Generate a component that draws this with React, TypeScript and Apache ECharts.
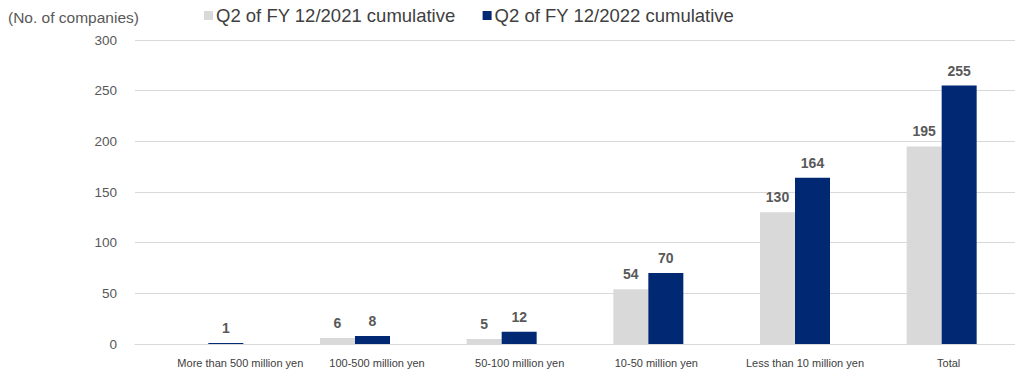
import React, { useEffect, useRef } from "react";
import * as echarts from "echarts";

const categories = [
  "More than 500 million yen",
  "100-500 million yen",
  "50-100 million yen",
  "10-50 million yen",
  "Less than 10 million yen",
  "Total",
];
const series2021 = [0, 6, 5, 54, 130, 195];
const series2022 = [1, 8, 12, 70, 164, 255];
const seriesNames = ["Q2 of FY 12/2021 cumulative", "Q2 of FY 12/2022 cumulative"];

const FONT = "'Liberation Sans', Arial, sans-serif";

export default function App() {
  const ref = useRef<HTMLDivElement>(null);
  useEffect(() => {
    if (!ref.current) return;
    const chart = echarts.init(ref.current, undefined, { renderer: "svg" });
    const labelShift = [64, 44, 36, 16, 20, 14];
    const labelCfg = {
      show: true,
      position: "top" as const,
      distance: 8,
      color: "#595959",
      fontWeight: "bold" as const,
      fontSize: 14,
      fontFamily: FONT,
      formatter: (p: any) => (p.value === 0 ? "" : String(p.value)),
    };
    chart.setOption({
      animation: false,
      textStyle: { fontFamily: FONT },
      graphic: [
        {
          type: "text",
          left: 8,
          top: 9,
          style: { text: "(No. of companies)", fill: "#595959", fontSize: 15.5, fontFamily: FONT },
        },
      ],
      legend: {
        left: 199,
        top: 1,
        itemWidth: 9,
        itemHeight: 9,
        itemGap: 27,
        icon: "rect",
        textStyle: { color: "#404040", fontSize: 18.5, fontFamily: FONT, padding: [0, 0, 0, -2] },
        data: seriesNames,
      },
      grid: { left: 135, right: 0, top: 40, bottom: 27, containLabel: false },
      xAxis: {
        type: "category",
        data: categories.map((c, i) => ({
          value: c,
          textStyle: { padding: [0, 0, 0, labelShift[i]] },
        })),
        axisLine: { show: true, lineStyle: { color: "#d9d9d9" } },
        axisTick: { show: false },
        axisLabel: { color: "#404040", fontSize: 11, margin: 13, fontFamily: FONT, interval: 0 },
      },
      yAxis: {
        type: "value",
        min: 0,
        max: 300,
        interval: 50,
        axisLine: { show: false },
        axisTick: { show: false },
        axisLabel: { color: "#595959", fontSize: 13.5, margin: 18, fontFamily: FONT },
        splitLine: { lineStyle: { color: "#d9d9d9" } },
      },
      series: [
        {
          name: seriesNames[0],
          type: "bar",
          data: series2021,
          barWidth: 35,
          barGap: "0%",
          itemStyle: { color: "#d9d9d9" },
          label: labelCfg,
        },
        {
          name: seriesNames[1],
          type: "bar",
          data: series2022,
          barWidth: 35,
          barGap: "0%",
          itemStyle: { color: "#002873" },
          label: labelCfg,
        },
      ],
    });
    return () => chart.dispose();
  }, []);
  return (
    <div
      ref={ref}
      style={{ position: "fixed", left: 0, top: 0, width: 1015, height: 371, background: "#fff" }}
    />
  );
}
